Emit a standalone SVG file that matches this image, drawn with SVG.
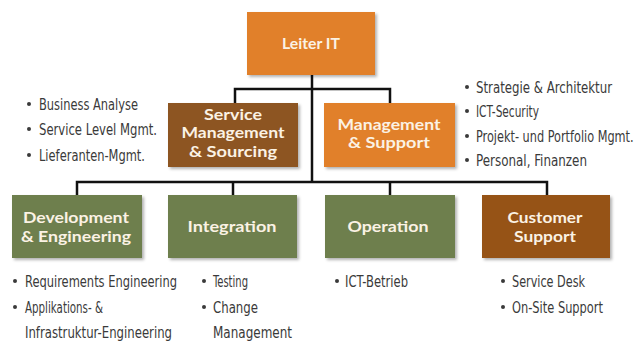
<svg xmlns="http://www.w3.org/2000/svg" width="643" height="345" viewBox="0 0 643 345">
  <defs>
    <filter id="shadow" x="-10%" y="-10%" width="130%" height="130%">
      <feDropShadow dx="2" dy="2" stdDeviation="1.5" flood-color="#000" flood-opacity="0.3"/>
    </filter>
    <style>
      .box { filter: url(#shadow); }
      .orange { fill: #E1802C; }
      .brown { fill: #8D5420; }
      .green { fill: #6E7F4E; }
      .rust { fill: #965217; }
      .label { font-family: Lato, "DejaVu Sans", sans-serif; font-weight: bold; font-size: 15px; fill: #FBF2E4; text-anchor: middle; }
      .item { font-family: "Liberation Sans Narrow", "DejaVu Sans Condensed", "Liberation Sans", sans-serif; font-size: 16px; fill: #3a3a3a; }
      .dot { fill: #3a3a3a; }
      .wire { fill: none; stroke: #111; stroke-width: 2.5; }
    </style>
  </defs>
  <rect width="643" height="345" fill="#fff"/>

  <!-- connectors -->
  <g id="connectors" class="wire">
    <path d="M312 75 V182"/>
    <path d="M235 103 V89 H390 V103"/>
    <path d="M77 195 V182 H547 V195"/>
    <path d="M233 182 V195"/>
    <path d="M390 182 V195"/>
  </g>

  <!-- top level -->
  <g id="leiter-it">
    <rect class="box orange" x="247" y="12" width="128" height="63"/>
    <text class="label" x="311" y="49" font-size="16" textLength="58" lengthAdjust="spacingAndGlyphs">Leiter IT</text>
  </g>

  <!-- staff units -->
  <g id="service-management">
    <rect class="box brown" x="168" y="103" width="130" height="64"/>
    <text class="label" x="233" y="120" textLength="58" lengthAdjust="spacingAndGlyphs">Service</text>
    <text class="label" x="233" y="138" textLength="103" lengthAdjust="spacingAndGlyphs">Management</text>
    <text class="label" x="233" y="157" textLength="88" lengthAdjust="spacingAndGlyphs">&amp; Sourcing</text>
  </g>
  <g id="management-support">
    <rect class="box orange" x="324" y="103" width="131" height="64"/>
    <text class="label" x="389" y="130" textLength="103" lengthAdjust="spacingAndGlyphs">Management</text>
    <text class="label" x="389" y="148" textLength="82" lengthAdjust="spacingAndGlyphs">&amp; Support</text>
  </g>

  <!-- line units -->
  <g id="development">
    <rect class="box green" x="12" y="195" width="130" height="63"/>
    <text class="label" x="76" y="223" textLength="106" lengthAdjust="spacingAndGlyphs">Development</text>
    <text class="label" x="76" y="242" textLength="110" lengthAdjust="spacingAndGlyphs">&amp; Engineering</text>
  </g>
  <g id="integration">
    <rect class="box green" x="168" y="195" width="129" height="63"/>
    <text class="label" x="232" y="232" textLength="89" lengthAdjust="spacingAndGlyphs">Integration</text>
  </g>
  <g id="operation">
    <rect class="box green" x="325" y="195" width="130" height="63"/>
    <text class="label" x="388" y="232" textLength="81" lengthAdjust="spacingAndGlyphs">Operation</text>
  </g>
  <g id="customer-support">
    <rect class="box rust" x="482" y="195" width="128" height="63"/>
    <text class="label" x="545" y="223" textLength="75" lengthAdjust="spacingAndGlyphs">Customer</text>
    <text class="label" x="545" y="242" textLength="62" lengthAdjust="spacingAndGlyphs">Support</text>
  </g>

  <!-- task lists -->
  <g id="list-service">
    <circle class="dot" cx="29" cy="104" r="2"/>
    <text class="item" x="39" y="110" textLength="99" lengthAdjust="spacingAndGlyphs">Business Analyse</text>
    <circle class="dot" cx="29" cy="129" r="2"/>
    <text class="item" x="39" y="135" textLength="118" lengthAdjust="spacingAndGlyphs">Service Level Mgmt.</text>
    <circle class="dot" cx="29" cy="155" r="2"/>
    <text class="item" x="39" y="161" textLength="106" lengthAdjust="spacingAndGlyphs">Lieferanten-Mgmt.</text>
  </g>
  <g id="list-management">
    <circle class="dot" cx="467" cy="87" r="2"/>
    <text class="item" x="476" y="93" textLength="136" lengthAdjust="spacingAndGlyphs">Strategie &amp; Architektur</text>
    <circle class="dot" cx="467" cy="111" r="2"/>
    <text class="item" x="476" y="117" textLength="63" lengthAdjust="spacingAndGlyphs">ICT-Security</text>
    <circle class="dot" cx="467" cy="136" r="2"/>
    <!-- longest line: condensed by a horizontal scale so it stays inside the frame -->
    <text class="item" transform="translate(476 142) scale(0.8 1)" x="0" y="0" textLength="197" lengthAdjust="spacingAndGlyphs">Projekt- und Portfolio Mgmt.</text>
    <circle class="dot" cx="467" cy="160" r="2"/>
    <text class="item" x="476" y="166" textLength="111" lengthAdjust="spacingAndGlyphs">Personal, Finanzen</text>
  </g>
  <g id="list-development">
    <circle class="dot" cx="15" cy="281" r="2"/>
    <text class="item" x="25" y="287" textLength="152" lengthAdjust="spacingAndGlyphs">Requirements Engineering</text>
    <circle class="dot" cx="15" cy="307" r="2"/>
    <text class="item" x="25" y="313" textLength="78" lengthAdjust="spacingAndGlyphs">Applikations- &amp;</text>
    <text class="item" x="25" y="338" textLength="147" lengthAdjust="spacingAndGlyphs">Infrastruktur-Engineering</text>
  </g>
  <g id="list-integration">
    <circle class="dot" cx="204" cy="281" r="2"/>
    <text class="item" x="213" y="287" textLength="35" lengthAdjust="spacingAndGlyphs">Testing</text>
    <circle class="dot" cx="204" cy="307" r="2"/>
    <text class="item" x="213" y="313" textLength="45" lengthAdjust="spacingAndGlyphs">Change</text>
    <text class="item" x="213" y="338" textLength="79" lengthAdjust="spacingAndGlyphs">Management</text>
  </g>
  <g id="list-operation">
    <circle class="dot" cx="337" cy="281" r="2"/>
    <text class="item" x="345" y="287" textLength="63" lengthAdjust="spacingAndGlyphs">ICT-Betrieb</text>
  </g>
  <g id="list-customer">
    <circle class="dot" cx="503" cy="281" r="2"/>
    <text class="item" x="512" y="287" textLength="73" lengthAdjust="spacingAndGlyphs">Service Desk</text>
    <circle class="dot" cx="503" cy="307" r="2"/>
    <text class="item" x="512" y="313" textLength="91" lengthAdjust="spacingAndGlyphs">On-Site Support</text>
  </g>
</svg>
